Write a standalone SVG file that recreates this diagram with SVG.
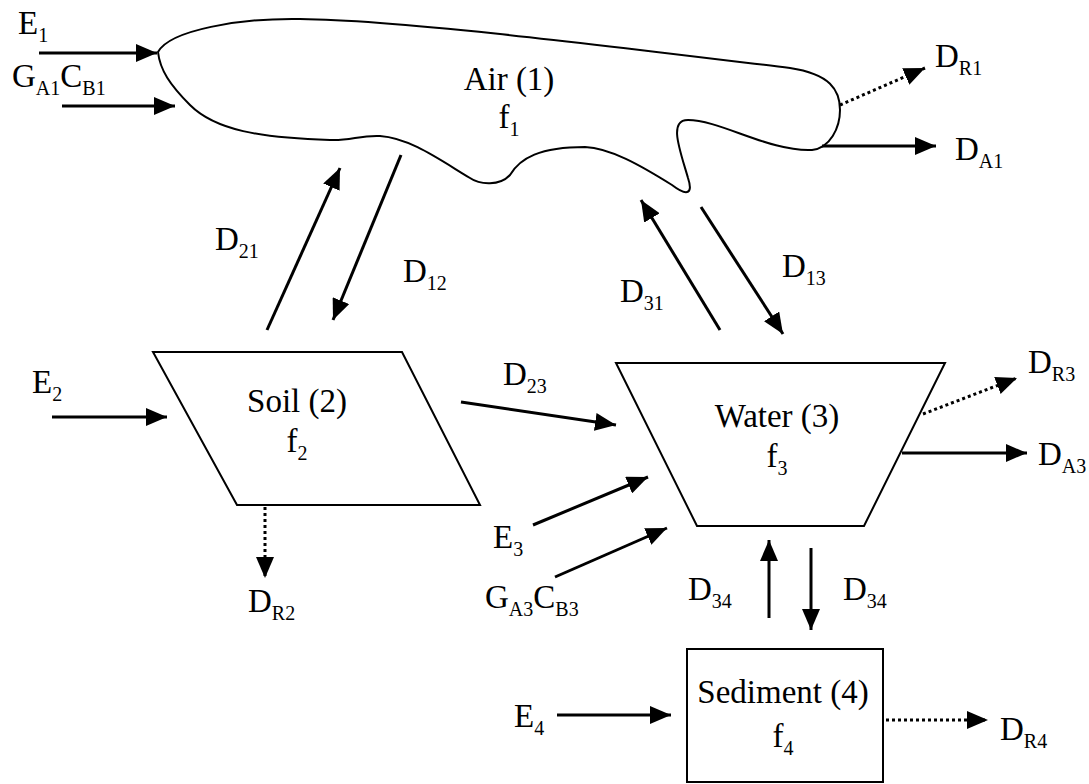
<svg xmlns="http://www.w3.org/2000/svg" width="1089" height="784" viewBox="0 0 1089 784" font-family="'Liberation Serif', 'Times New Roman', 'DejaVu Serif', serif">
<defs>
<marker id="ah" markerUnits="userSpaceOnUse" markerWidth="22" markerHeight="18" refX="21" refY="9" orient="auto">
<path d="M0,0 L21,9 L0,18 Z" fill="#000"/>
</marker>
<style>
.shape{fill:#fff;stroke:#000;stroke-width:2}
.c{fill:none;stroke:#000;stroke-width:3;marker-end:url(#ah)}
.d{stroke-dasharray:3 3}
text{font-size:33px;fill:#000}
.s{font-size:20px}
.m{text-anchor:middle}
</style>
</defs>
<rect width="1089" height="784" fill="#fff"/>
<g id="air">
<path class="shape" d="M158,52 C170,30 240,18 300,19 C400,20 600,45 790,68 C830,74 840,90 840,110 C840,128 830,148 812,150 C770,152 720,120 688,120 C668,120 680,150 688,178 C694,196 685,195 672,185 C640,165 610,148 585,147 C540,147 520,158 510,175 C500,186 480,185 470,178 C440,160 410,138 380,136 C360,135 350,141 330,140 C260,138 215,130 190,105 C170,85 160,70 158,52 Z"/>
<text class="m" x="509" y="90" font-family="Liberation Serif">Air (1)</text>
<text class="m" x="509" y="128" font-family="Liberation Serif">f<tspan class="s" dy="8">1</tspan></text>
</g>
<g id="soil">
<polygon class="shape" points="153,352 402,352 480,505 237,505"/>
<text class="m" x="297" y="412" font-family="Liberation Serif">Soil (2)</text>
<text class="m" x="297" y="452" font-family="Liberation Serif">f<tspan class="s" dy="8">2</tspan></text>
</g>
<g id="water">
<polygon class="shape" points="616,363 945,363 864,526 697,526"/>
<text class="m" x="777" y="427" font-family="Liberation Serif">Water (3)</text>
<text class="m" x="777" y="467" font-family="Liberation Serif">f<tspan class="s" dy="8">3</tspan></text>
</g>
<g id="sediment">
<rect class="shape" x="687" y="649" width="196" height="133"/>
<text class="m" x="783" y="703" font-family="Liberation Serif">Sediment (4)</text>
<text class="m" x="783" y="747" font-family="Liberation Serif">f<tspan class="s" dy="8">4</tspan></text>
</g>
<g id="connectors">
<line class="c" x1="39" y1="53" x2="157" y2="53"/>
<line class="c" x1="62" y1="106" x2="175" y2="106"/>
<line class="c d" x1="840" y1="105" x2="925" y2="68"/>
<line class="c" x1="822" y1="146" x2="936" y2="146"/>
<line class="c" x1="267" y1="330" x2="340" y2="168"/>
<line class="c" x1="401" y1="155" x2="333" y2="320"/>
<line class="c" x1="720" y1="330" x2="641" y2="200"/>
<line class="c" x1="701" y1="207" x2="783" y2="334"/>
<line class="c" x1="52" y1="417" x2="167" y2="417"/>
<line class="c d" x1="265" y1="507" x2="265" y2="578"/>
<line class="c" x1="461" y1="402" x2="616" y2="425"/>
<line class="c" x1="533" y1="525" x2="648" y2="477"/>
<line class="c" x1="555" y1="577" x2="667" y2="528"/>
<line class="c d" x1="923" y1="414" x2="1017" y2="378"/>
<line class="c" x1="902" y1="453" x2="1027" y2="453"/>
<line class="c" x1="769" y1="618" x2="769" y2="540"/>
<line class="c" x1="811" y1="548" x2="811" y2="630"/>
<line class="c" x1="557" y1="715" x2="671" y2="715"/>
<line class="c d" x1="886" y1="720" x2="988" y2="720"/>
</g>
<g id="labels" font-family="Liberation Serif">
<text x="18" y="34">E<tspan class="s" dy="8">1</tspan></text>
<text x="12" y="87">G<tspan class="s" dy="8">A1</tspan><tspan dy="-8">C</tspan><tspan class="s" dy="8">B1</tspan></text>
<text x="935" y="67">D<tspan class="s" dy="8">R1</tspan></text>
<text x="955" y="160">D<tspan class="s" dy="8">A1</tspan></text>
<text x="215" y="250">D<tspan class="s" dy="8">21</tspan></text>
<text x="403" y="282">D<tspan class="s" dy="8">12</tspan></text>
<text x="620" y="302">D<tspan class="s" dy="8">31</tspan></text>
<text x="782" y="277">D<tspan class="s" dy="8">13</tspan></text>
<text x="32" y="393">E<tspan class="s" dy="8">2</tspan></text>
<text x="248" y="612">D<tspan class="s" dy="8">R2</tspan></text>
<text x="503" y="385">D<tspan class="s" dy="8">23</tspan></text>
<text x="1028" y="373">D<tspan class="s" dy="8">R3</tspan></text>
<text x="1038" y="465">D<tspan class="s" dy="8">A3</tspan></text>
<text x="493" y="548">E<tspan class="s" dy="8">3</tspan></text>
<text x="485" y="608">G<tspan class="s" dy="8">A3</tspan><tspan dy="-8">C</tspan><tspan class="s" dy="8">B3</tspan></text>
<text x="688" y="600">D<tspan class="s" dy="8">34</tspan></text>
<text x="843" y="600">D<tspan class="s" dy="8">34</tspan></text>
<text x="514" y="727">E<tspan class="s" dy="8">4</tspan></text>
<text x="1000" y="740">D<tspan class="s" dy="8">R4</tspan></text>
</g>
</svg>
